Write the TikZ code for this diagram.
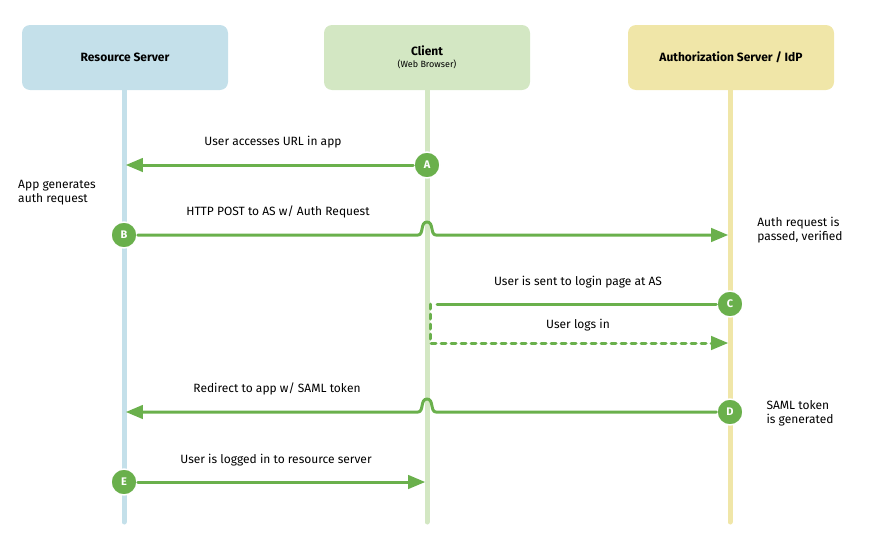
\documentclass[tikz,border=0pt]{standalone}
\usepackage{fontspec}
\setmainfont{Fira Sans}
\usetikzlibrary{arrows}
\definecolor{rsblue}{HTML}{C4E0EA}
\definecolor{clgreen}{HTML}{D3E7C3}
\definecolor{asyellow}{HTML}{F0E6A8}
\definecolor{flow}{HTML}{6AB04C}
\begin{document}
\begin{tikzpicture}[x=1pt,y=-1pt, line cap=round,line join=round,>=triangle 45,
  head/.style={rounded corners=8pt, minimum width=206pt, minimum height=65pt, align=center, font=\fontsize{12}{14}\selectfont\bfseries},
  life/.style={line width=5pt},
  stp/.style={circle, fill=flow, draw=white, line width=1.5pt, minimum size=26pt, inner sep=0pt, text=white, font=\fontsize{11}{12}\selectfont\bfseries},
  msg/.style={draw=flow, line width=3pt},
  lbl/.style={font=\fontsize{12}{14}\selectfont, align=center}]
                    \useasboundingbox (0,0) rectangle (876,544);

                    % headers and lifelines
                    \node[head, fill=rsblue] (rs) at (125,57.5) {Resource Server};
                    \node[head, fill=clgreen] (cl) at (427,57.5) {Client\\[-2pt]{\fontsize{9}{10}\selectfont\mdseries (Web Browser)}};
                    \node[head, fill=asyellow] (as) at (731,57.5) {Authorization Server / IdP};
                    \draw [life, rsblue] (124,90) -- (124,522);
                    \draw [life, clgreen] (427,90) -- (427,522);
                    \draw [life, asyellow] (730,90) -- (730,522);

                    % steps
                    \node[stp] (A) at (427,165) {A};
                    \node[stp] (B) at (124,235) {B};
                    \node[stp] (C) at (730,304) {C};
                    \node[stp] (D) at (730,412) {D};
                    \node[stp] (E) at (124,482) {E};
                    \coordinate (a1) at (126,165);
                    \coordinate (b1) at (728,235);
                    \coordinate (c1) at (437,304);
                    \coordinate (c2) at (728,343);
                    \coordinate (d1) at (126,412);
                    \coordinate (e1) at (425,482);

                    \draw [msg, ->] (A) -- (a1);
                    \draw [msg, ->] (B) -- (418,235) .. controls (424,235) and (420,222) .. (427,222) .. controls (434,222) and (430,235) .. (436,235) -- (b1);
                    \draw [msg] (C) -- (c1);
                    \draw [msg, ->, dash pattern=on 5pt off 5pt] (430,304) -- (430,343) -- (c2);
                    \draw [msg, ->] (D) -- (436,412) .. controls (430,412) and (434,399) .. (427,399) .. controls (420,399) and (424,412) .. (418,412) -- (d1);
                    \draw [msg, ->] (E) -- (e1);

                    % texts
                    \node[lbl] (tA) at (273,142) {User accesses URL in app};
                    \node[lbl] (tB) at (278,212) {HTTP POST to AS w/ Auth Request};
                    \node[lbl] (tC) at (578,282) {User is sent to login page at AS};
                    \node[lbl] (tC2) at (578,325) {User logs in};
                    \node[lbl] (tD) at (277,389) {Redirect to app w/ SAML token};
                    \node[lbl] (tE) at (276,460) {User is logged in to resource server};
                    \node[lbl, align=left] (nB) at (57,193) {App generates\\auth request};
                    \node[lbl, align=left] (nAS) at (800,230) {Auth request is\\passed, verified};
                    \node[lbl, align=left] (nD) at (800,413) {SAML token\\is generated};
                \end{tikzpicture}
\end{document}
